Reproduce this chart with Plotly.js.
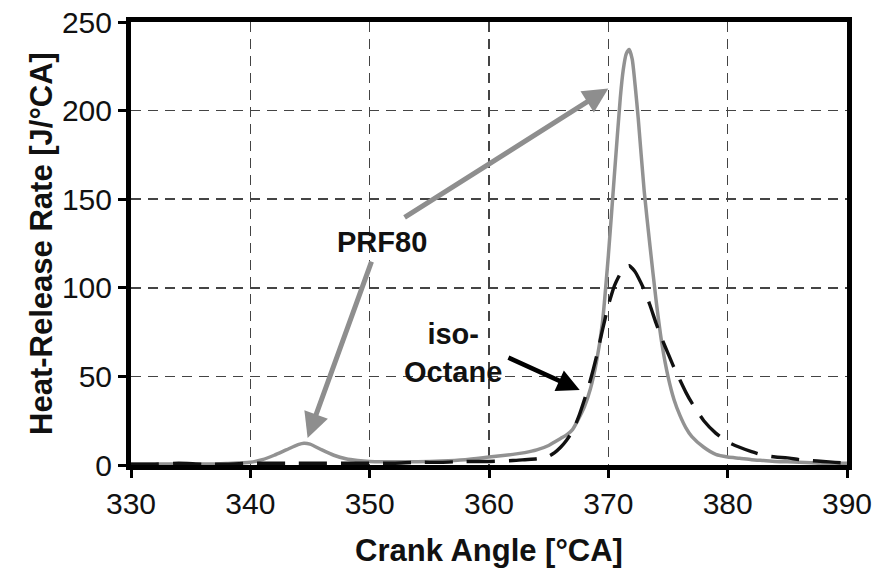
<!DOCTYPE html>
<html>
<head>
<meta charset="utf-8">
<script src="https://cdn.plot.ly/plotly-3.0.1.min.js"></script>
<style>html,body{margin:0;padding:0;background:#fff;}#chart{width:875px;height:575px;}</style>
</head>
<body>
<div id="chart"></div>
<script>
// Crank angle [°CA]
const angle = [330,332,334,336,338,340,341,342,343,344,344.5,345,346,347,348,349,350,352,354,356,358,360,362,363,364,365,365.5,366,366.5,367,367.5,368,368.5,369,369.5,370,370.5,371,371.25,371.5,371.75,372,372.25,372.5,373,373.5,374,374.5,375,375.5,376,376.5,377,378,379,380,381,382,383,384,385,386,387,388,389,390];
// Heat-release rate [J/°CA], PRF80 (gray solid)
const prf80 = [0.5,0.5,0.5,0.5,0.8,1.5,3,5.5,8.5,11.5,12.3,11.8,8.5,5.5,3.5,2.5,2,1.8,1.8,2.2,3,4.5,6,7,8.5,11,13,15,17,20,26,33,43,58,80,118,163,207,223,232,234.5,229,214,196,155,123,93,68,50,37,28,21,16,10,6,4.5,3.8,3,2.5,2,1.8,1.5,1.3,1,1,1];
// Heat-release rate [J/°CA], iso-Octane (black dashed)
const isoOctane = [0.5,0.5,1,0.5,0.5,1,1,1,1,1,1,1,1,1,1,1,1,1,1.5,1.5,2,2,2.5,3,3.5,5,7,10,14,19,27,37,48,61,76,90,101,108,110.5,112,112.5,111,109,106,99,90,80,71,63,55,48,41,35,25,18,13,10,7.5,5.5,4.5,4,3,2.5,2,1.5,1];
const xTicks = [330,340,350,360,370,380,390];
const yTicks = [0,50,100,150,200,250];

const FONT = 'Liberation Sans, Arial, sans-serif';
const traces = [
  {x: angle, y: prf80, type: 'scatter', mode: 'lines', name: 'PRF80',
   line: {color: '#929292', width: 3.5, shape: 'spline', smoothing: 0.6}},
  {x: angle, y: isoOctane, type: 'scatter', mode: 'lines', name: 'iso-Octane',
   line: {color: '#111', width: 3.4, dash: '28px,14px', shape: 'spline', smoothing: 0.6}}
];
const layout = {
  width: 875, height: 575,
  margin: {l: 131, r: 28, t: 22, b: 110},
  paper_bgcolor: '#fff', plot_bgcolor: '#fff',
  showlegend: false,
  font: {family: FONT, color: '#111'},
  xaxis: {
    range: [330, 390], tickvals: xTicks, ticktext: xTicks.map(String),
    showline: true, linewidth: 5, linecolor: '#000', mirror: true,
    ticks: 'outside', ticklen: 8, tickwidth: 3, tickcolor: '#000',
    showgrid: true, gridcolor: '#444', gridwidth: 1.6, griddash: '10px,7px',
    zeroline: false,
    tickfont: {size: 30, family: FONT, color: '#111'},
    title: {text: 'Crank Angle [°CA]', font: {size: 31, family: FONT, color: '#111', weight: 'bold'}, standoff: 22}
  },
  yaxis: {
    range: [0, 250], tickvals: yTicks, ticktext: yTicks.map(String),
    showline: true, linewidth: 5, linecolor: '#000', mirror: true,
    ticks: 'outside', ticklen: 8, tickwidth: 3, tickcolor: '#000',
    showgrid: true, gridcolor: '#444', gridwidth: 1.6, griddash: '10px,7px',
    zeroline: false,
    tickfont: {size: 30, family: FONT, color: '#111'},
    title: {text: 'Heat-Release Rate [J/°CA]', font: {size: 31, family: FONT, color: '#111', weight: 'bold'}, standoff: 2}
  },
  annotations: [
    {x: 370.0, y: 212.5, ax: 352.8, ay: 139.2, axref: 'x', ayref: 'y', xref: 'x', yref: 'y',
     showarrow: true, arrowhead: 2, arrowsize: 1, arrowwidth: 5, arrowcolor: '#8e8e8e', text: ''},
    {x: 344.8, y: 15.2, ax: 350.2, ay: 115.6, axref: 'x', ayref: 'y', xref: 'x', yref: 'y',
     showarrow: true, arrowhead: 2, arrowsize: 1, arrowwidth: 5, arrowcolor: '#8e8e8e', text: ''},
    {x: 367.6, y: 42.3, ax: 361.5, ay: 61, axref: 'x', ayref: 'y', xref: 'x', yref: 'y',
     showarrow: true, arrowhead: 2, arrowsize: 1, arrowwidth: 4.5, arrowcolor: '#000', text: ''},
    {x: 351.0, y: 125.7, xref: 'x', yref: 'y', showarrow: false, text: 'PRF80',
     font: {size: 29, family: FONT, color: '#111', weight: 'bold'}},
    {x: 357.0, y: 63, xref: 'x', yref: 'y', showarrow: false, text: 'iso-<br>Octane',
     font: {size: 29, family: FONT, color: '#111', weight: 'bold'}}
  ]
};
Plotly.newPlot('chart', traces, layout, {staticPlot: true, displayModeBar: false});
</script>
</body>
</html>
